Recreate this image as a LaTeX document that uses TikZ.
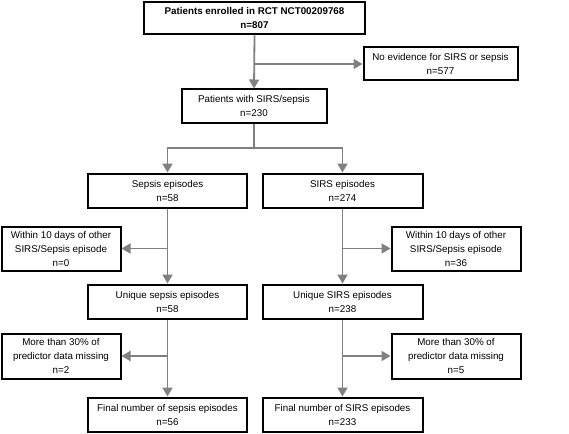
\documentclass[tikz,border=0pt]{standalone}
\usepackage{fontspec}
\setmainfont{Liberation Sans}
\usepackage{tikz}
\usetikzlibrary{arrows.meta, positioning}

\begin{document}
\begin{tikzpicture}[x=1pt,y=-1pt,
    box/.style={draw=black,line width=2pt,align=center,inner sep=0pt,
      font=\fontsize{9.8}{14}\selectfont},
    flow/.style={draw=gray,line width=1.8pt},
    arr/.style={flow,-{Triangle[length=9pt,width=10pt]}}]
        \useasboundingbox (0,0) rectangle (569,433);
        % boxes
        \begin{scope}
          \node[box,line width=2.8pt,minimum width=221pt,minimum height=32pt,font=\fontsize{9.8}{14}\selectfont\bfseries] (enrolled) at (254.5,18) {Patients enrolled in RCT NCT00209768\\n=807};
          \node[box,minimum width=154pt,minimum height=33pt] (noevid) at (440.5,64) {No evidence for SIRS or sepsis\\n=577};
          \node[box,minimum width=145pt,minimum height=33pt] (sirspat) at (254,106) {Patients with SIRS/sepsis\\n=230};
          \node[box,minimum width=159pt,minimum height=34pt] (sepsis) at (167.5,190.5) {Sepsis episodes\\n=58};
          \node[box,minimum width=160pt,minimum height=34pt] (sirs) at (342.5,190.5) {SIRS episodes\\n=274};
          \node[box,minimum width=119pt,minimum height=44pt] (withinl) at (61,248.5) {Within 10 days of other\\SIRS/Sepsis episode\\n=0};
          \node[box,minimum width=129pt,minimum height=44pt] (withinr) at (456,248.5) {Within 10 days of other\\SIRS/Sepsis episode\\n=36};
          \node[box,minimum width=159pt,minimum height=34pt] (usepsis) at (167.5,301.5) {Unique sepsis episodes\\n=58};
          \node[box,minimum width=160pt,minimum height=34pt] (usirs) at (342.5,301.5) {Unique SIRS episodes\\n=238};
          \node[box,minimum width=119pt,minimum height=45pt] (missl) at (61,356) {More than 30\% of\\predictor data missing\\n=2};
          \node[box,minimum width=129pt,minimum height=45pt] (missr) at (456,356) {More than 30\% of\\predictor data missing\\n=5};
          \node[box,minimum width=159pt,minimum height=34pt] (fsepsis) at (167.5,414.5) {Final number of sepsis episodes\\n=56};
          \node[box,minimum width=160pt,minimum height=34pt] (fsirs) at (342.5,414.5) {Final number of SIRS episodes\\n=233};
        \end{scope}
        % branch points
        \coordinate (b0) at (enrolled.south |- noevid.west);
        \coordinate (b1) at (254,148);
        \coordinate (b2) at (sepsis.south |- withinl.east);
        \coordinate (b3) at (sirs.south |- withinr.west);
        \coordinate (b4) at (usepsis.south |- missl.east);
        \coordinate (b5) at (usirs.south |- missr.west);
        % connectors
        \begin{scope}
          \path[arr] (enrolled.south) -- (sirspat.north);
          \path[arr] (b0) -- (noevid.west);
          \path[flow] (sirspat.south) -- (b1);
          \path[arr] (b1) -| (sepsis.north);
          \path[arr] (b1) -| (sirs.north);
          \path[arr] (sepsis.south) -- (usepsis.north);
          \path[arr] (b2) -- (withinl.east);
          \path[arr] (sirs.south) -- (usirs.north);
          \path[arr] (b3) -- (withinr.west);
          \path[arr] (usepsis.south) -- (fsepsis.north);
          \path[arr] (b4) -- (missl.east);
          \path[arr] (usirs.south) -- (fsirs.north);
          \path[arr] (b5) -- (missr.west);
        \end{scope}
      \end{tikzpicture}
\end{document}
